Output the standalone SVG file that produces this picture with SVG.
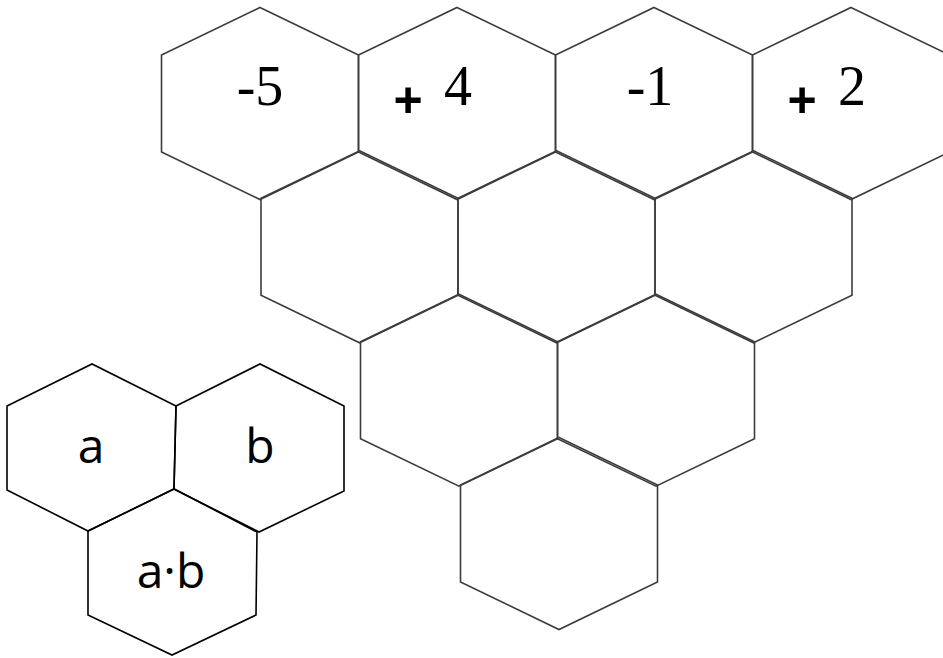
<svg xmlns="http://www.w3.org/2000/svg" width="943" height="658" viewBox="0 0 943 658">
<style>
.big{fill:none;stroke:#3c3c3c;stroke-width:1.6;stroke-linejoin:miter}
.small{fill:none;stroke:#000;stroke-width:1.6;stroke-linejoin:miter}
.num{font-family:"Times New Roman",Times,"Liberation Serif","DejaVu Serif",serif;font-size:56px;text-anchor:middle;fill:#000}
</style>
<defs>
<polygon id="hex" points="0,-96 98.5,-48.5 98.5,48.5 0,96 -98.5,48.5 -98.5,-48.5"/>
</defs>
<rect width="943" height="658" fill="#fff"/>
<g id="pyramid">
<g id="r1c1"><use href="#hex" class="big" transform="translate(260,103.5)"/><text class="num" x="260" y="105">-5</text></g>
<g id="r1c2"><use href="#hex" class="big" transform="translate(457,103.5)"/><text font-family="'Liberation Sans', Arial, sans-serif" font-size="50" font-weight="bold" text-anchor="middle" x="408" y="117">+</text><text class="num" x="458" y="105">4</text></g>
<g id="r1c3"><use href="#hex" class="big" transform="translate(654,103.5)"/><text class="num" x="650" y="105">-1</text></g>
<g id="r1c4"><use href="#hex" class="big" transform="translate(851,103.5)"/><text font-family="'Liberation Sans', Arial, sans-serif" font-size="50" font-weight="bold" text-anchor="middle" x="802" y="117">+</text><text class="num" x="852" y="105">2</text></g>
<g id="r2c1"><use href="#hex" class="big" transform="translate(359.5,246.8)"/></g>
<g id="r2c2"><use href="#hex" class="big" transform="translate(556.5,246.8)"/></g>
<g id="r2c3"><use href="#hex" class="big" transform="translate(753.5,246.8)"/></g>
<g id="r3c1"><use href="#hex" class="big" transform="translate(459,390.2)"/></g>
<g id="r3c2"><use href="#hex" class="big" transform="translate(656,390.2)"/></g>
<g id="r4c1"><use href="#hex" class="big" transform="translate(559,533.5)"/></g>
</g>
<g id="legend">
<g id="hex-a"><polygon class="small" points="7,406 92,364 176,406 174,489 88,531 7,490"/><text font-family="'Open Sans', 'Noto Sans', sans-serif" font-size="48" text-anchor="middle" x="91" y="463">a</text></g>
<g id="hex-b"><polygon class="small" points="176,406 260,364 344,406 344,491 259,532 174,489"/><text font-family="'Open Sans', 'Noto Sans', sans-serif" font-size="48" text-anchor="middle" x="260" y="463">b</text></g>
<g id="hex-ab"><polygon class="small" points="88,531 174,489 257,532 256,615 172,655 88,615"/><text font-family="'Open Sans', 'Noto Sans', sans-serif" font-size="48" text-anchor="middle" x="171" y="588">a·b</text></g>
</g>
<g id="connectors"/>
</svg>
